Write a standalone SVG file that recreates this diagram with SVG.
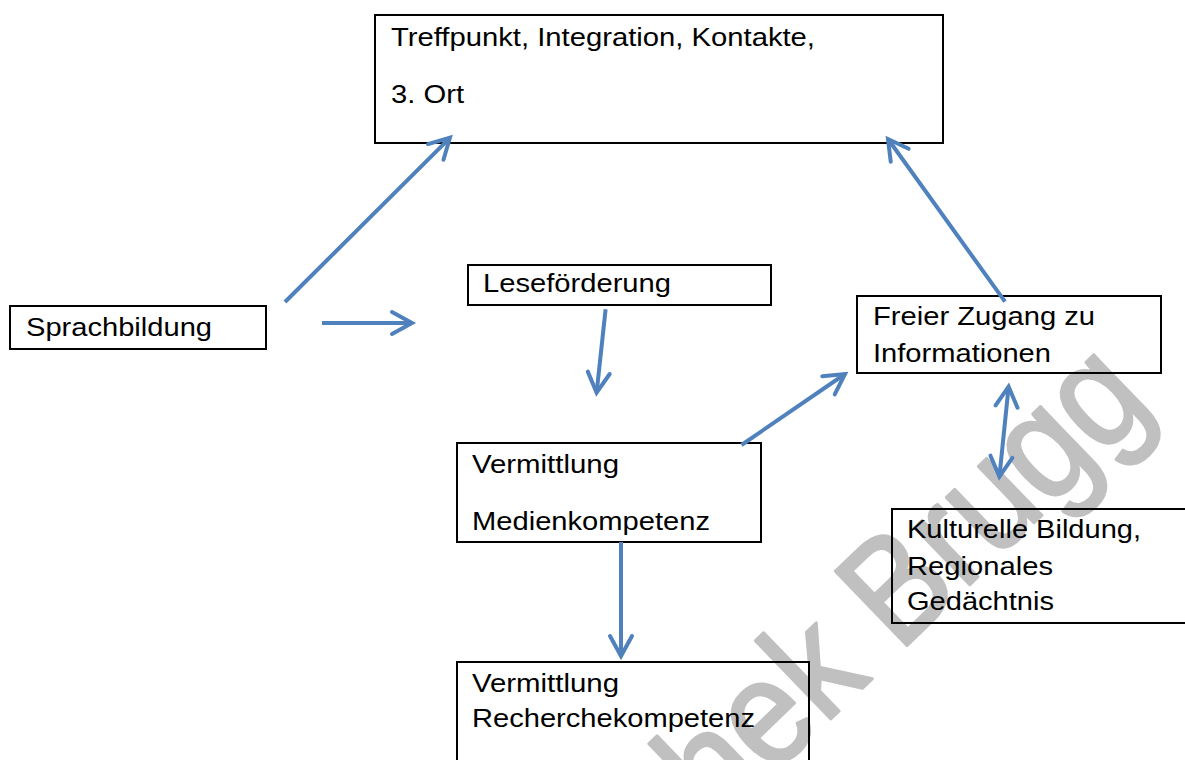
<svg xmlns="http://www.w3.org/2000/svg" width="1185" height="760" viewBox="0 0 1185 760">
<style>
  .box { fill: none; stroke: #000; stroke-width: 2; }
  .lbl { font-family: "Liberation Sans", Arial, sans-serif; font-size: 25px; fill: #000; }
  .wm { font-family: "Liberation Sans", Arial, sans-serif; font-size: 150px; fill: #c0c0c0; stroke: #c0c0c0; stroke-width: 3; stroke-linejoin: round; }
  .conn { fill: none; stroke: #4F81BD; stroke-width: 4; stroke-linecap: butt; }
</style>
<defs>
  <marker id="arr" markerUnits="userSpaceOnUse" markerWidth="30" markerHeight="30" refX="22" refY="12" orient="auto-start-reverse" overflow="visible">
    <path d="M2,1 L22,12 L2,23" fill="none" stroke="#4F81BD" stroke-width="4" stroke-linecap="round" stroke-linejoin="miter"/>
  </marker>
</defs>
<rect x="0" y="0" width="1185" height="760" fill="#fff"/>
<text class="wm" x="0" y="0" transform="translate(456 1081) rotate(-44) scale(0.89 1)">Bibliothek Brugg</text>

<g id="node-treffpunkt">
  <rect class="box" x="375" y="15" width="568" height="128"/>
  <text class="lbl" x="391" y="46" textLength="424" lengthAdjust="spacingAndGlyphs">Treffpunkt, Integration, Kontakte,</text>
  <text class="lbl" x="391" y="103" textLength="73" lengthAdjust="spacingAndGlyphs">3. Ort</text>
</g>
<g id="node-sprachbildung">
  <rect class="box" x="10" y="306" width="256" height="43"/>
  <text class="lbl" x="26" y="336" textLength="186" lengthAdjust="spacingAndGlyphs">Sprachbildung</text>
</g>
<g id="node-lesefoerderung">
  <rect class="box" x="468" y="265" width="303" height="40"/>
  <text class="lbl" x="483" y="292" textLength="188" lengthAdjust="spacingAndGlyphs">Leseförderung</text>
</g>
<g id="node-freier-zugang">
  <rect class="box" x="857" y="296" width="304" height="77"/>
  <text class="lbl" x="873" y="325" textLength="222" lengthAdjust="spacingAndGlyphs">Freier Zugang zu</text>
  <text class="lbl" x="873" y="362" textLength="178" lengthAdjust="spacingAndGlyphs">Informationen</text>
</g>
<g id="node-medienkompetenz">
  <rect class="box" x="457" y="443" width="304" height="99"/>
  <text class="lbl" x="472" y="473" textLength="147" lengthAdjust="spacingAndGlyphs">Vermittlung</text>
  <text class="lbl" x="472" y="530" textLength="238" lengthAdjust="spacingAndGlyphs">Medienkompetenz</text>
</g>
<g id="node-recherchekompetenz">
  <rect class="box" x="457" y="662" width="352" height="120"/>
  <text class="lbl" x="472" y="692" textLength="147" lengthAdjust="spacingAndGlyphs">Vermittlung</text>
  <text class="lbl" x="472" y="727" textLength="283" lengthAdjust="spacingAndGlyphs">Recherchekompetenz</text>
</g>
<g id="node-kulturelle-bildung">
  <rect class="box" x="892" y="509" width="320" height="114"/>
  <text class="lbl" x="907" y="538" textLength="234" lengthAdjust="spacingAndGlyphs">Kulturelle Bildung,</text>
  <text class="lbl" x="907" y="575" textLength="146" lengthAdjust="spacingAndGlyphs">Regionales</text>
  <text class="lbl" x="907" y="610" textLength="147" lengthAdjust="spacingAndGlyphs">Gedächtnis</text>
</g>

<g id="connectors">
  <line class="conn" x1="285" y1="302" x2="449.9" y2="137.8" marker-end="url(#arr)"/>
  <line class="conn" x1="322" y1="323" x2="412" y2="323" marker-end="url(#arr)"/>
  <line class="conn" x1="605.6" y1="309.3" x2="596.6" y2="392.7" marker-end="url(#arr)"/>
  <line class="conn" x1="741.5" y1="445" x2="845" y2="374" marker-end="url(#arr)"/>
  <line class="conn" x1="1005" y1="301.7" x2="888" y2="139" marker-end="url(#arr)"/>
  <line class="conn" x1="1008.6" y1="386.7" x2="999.4" y2="476.7" marker-start="url(#arr)" marker-end="url(#arr)"/>
  <line class="conn" x1="621" y1="542" x2="621" y2="656" marker-end="url(#arr)"/>
</g>
</svg>
